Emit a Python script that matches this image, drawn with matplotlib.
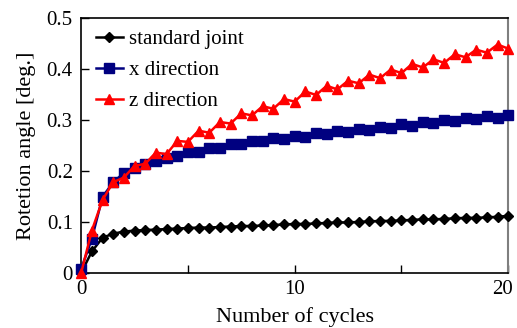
import matplotlib
matplotlib.use('Agg')
import matplotlib.pyplot as plt
import numpy as np
from matplotlib.ticker import MultipleLocator

plt.rcParams['font.family'] = ['Liberation Serif', 'DejaVu Serif']

# cycles sampled every half cycle
cycles = np.arange(0, 20.5, 0.5)

standard_joint = [
    0.000, 0.042, 0.069, 0.077, 0.081, 0.083, 0.084, 0.085, 0.086, 0.087,
    0.088, 0.089, 0.089, 0.090, 0.091, 0.092, 0.092, 0.093, 0.094, 0.095,
    0.096, 0.096, 0.097, 0.098, 0.099, 0.099, 0.100, 0.101, 0.102, 0.102,
    0.103, 0.104, 0.105, 0.105, 0.106, 0.107, 0.108, 0.108, 0.109, 0.110,
    0.112,
]
x_direction = [
    0.008, 0.067, 0.149, 0.178, 0.196, 0.205, 0.214, 0.219, 0.226, 0.230,
    0.237, 0.238, 0.246, 0.246, 0.252, 0.252, 0.259, 0.258, 0.264, 0.263,
    0.269, 0.266, 0.274, 0.273, 0.278, 0.276, 0.283, 0.280, 0.287, 0.285,
    0.292, 0.289, 0.296, 0.294, 0.300, 0.298, 0.303, 0.301, 0.307, 0.303,
    0.310,
]
z_direction = [
    0.000, 0.083, 0.143, 0.178, 0.187, 0.210, 0.214, 0.236, 0.233, 0.259,
    0.257, 0.279, 0.275, 0.296, 0.293, 0.313, 0.309, 0.327, 0.322, 0.341,
    0.336, 0.356, 0.349, 0.367, 0.360, 0.377, 0.372, 0.389, 0.382, 0.399,
    0.392, 0.410, 0.403, 0.419, 0.412, 0.429, 0.423, 0.438, 0.432, 0.448,
    0.440,
]
x_ticks = [0, 10, 20]
y_ticks = [0, 0.1, 0.2, 0.3, 0.4, 0.5]
y_tick_labels = ['0', '0.1', '0.2', '0.3', '0.4', '0.5']

fig = plt.figure(figsize=(5.17, 3.28), dpi=100)
ax = fig.add_axes([0.157, 0.168, 0.826, 0.777])

ax.plot(cycles, standard_joint, color='black', marker='D', markersize=5.5,
        linewidth=1.8, label='standard joint', clip_on=False, zorder=3)
ax.plot(cycles, x_direction, color='#000080', marker='s', markersize=6.5,
        linewidth=1.8, label='x direction', clip_on=False, zorder=4)
ax.plot(cycles, z_direction, color='#ff0000', marker='^', markersize=7.5,
        linewidth=1.8, label='z direction', clip_on=False, zorder=5)

ax.set_xlim(0, 20)
ax.set_ylim(0, 0.5)
ax.set_xticks(x_ticks)
ax.xaxis.set_minor_locator(MultipleLocator(5))
ax.set_xticklabels([])
ax.set_yticks(y_ticks)
ax.set_yticklabels(y_tick_labels)

ax.tick_params(axis='both', which='both', direction='in', labelsize=15,
               width=1.0)
ax.tick_params(axis='y', which='both', pad=6)
ax.tick_params(axis='both', which='major', length=6)
ax.tick_params(axis='x', which='minor', length=6)
ax.tick_params(right=False, top=False)

# x labels drawn by hand so the last one can be pulled in from the edge
for v in x_ticks:
    dx = -4 if v == x_ticks[-1] else 0
    ax.annotate(str(v), xy=(v, 0), xycoords=('data', 'axes fraction'),
                xytext=(dx, -5), textcoords='offset points',
                ha='center', va='top', fontsize=15)

for side in ['left', 'bottom', 'top']:
    ax.spines[side].set_linewidth(1.2)
    ax.spines[side].set_color('black')
ax.spines['right'].set_color('#7f7f7f')
ax.spines['right'].set_linewidth(1.5)

ax.set_xlabel('Number of cycles', fontsize=16, labelpad=21)
ax.set_ylabel('Rotetion angle [deg.]', fontsize=16, labelpad=8)

ax.legend(loc='upper left', frameon=False, fontsize=15, handlelength=1.3,
          handletextpad=0.3, labelspacing=0.55, borderaxespad=0.2,
          bbox_to_anchor=(0.005, 1.005))

fig.savefig('out.png', dpi=100)
